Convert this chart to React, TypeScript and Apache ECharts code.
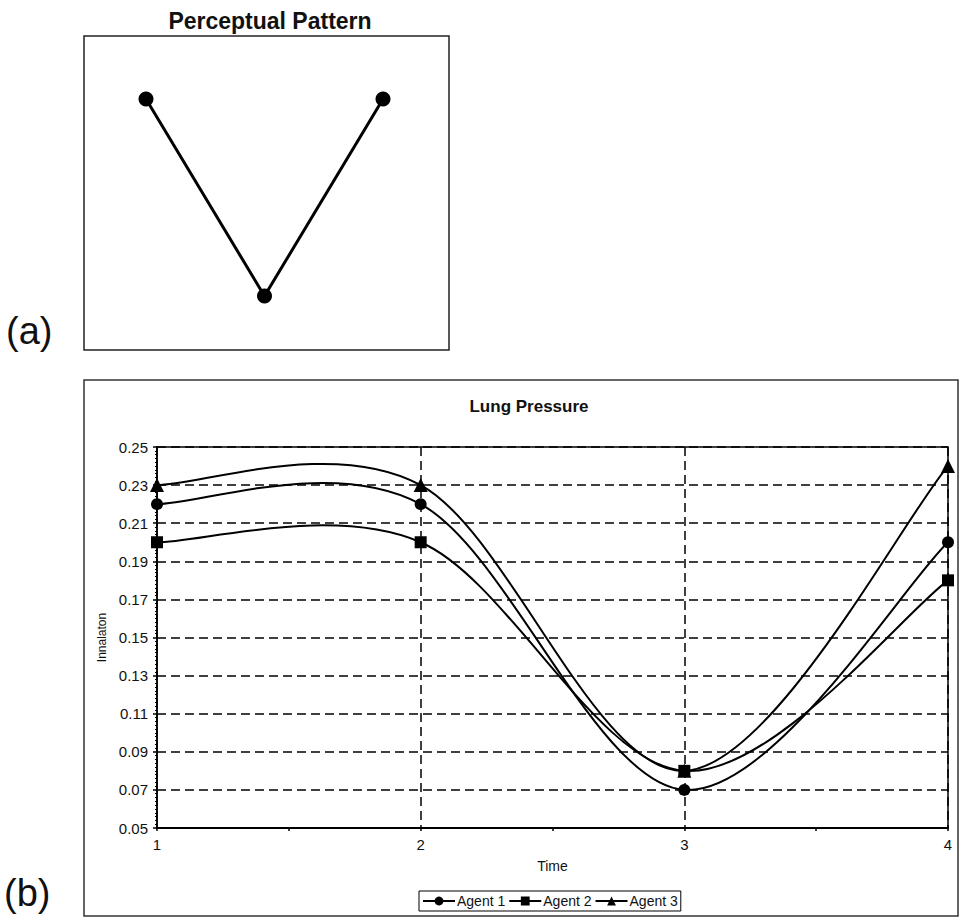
import React, { useEffect, useRef } from "react";
import * as echarts from "echarts";

// Panel (a): perceptual pattern
const PATTERN_X = [1, 2, 3];
const PATTERN_Y = [1, 0, 1];

// Panel (b): lung pressure
const TIME = [1, 2, 3, 4];
const AGENT1 = [0.22, 0.22, 0.07, 0.2];
const AGENT2 = [0.2, 0.2, 0.08, 0.18];
const AGENT3 = [0.23, 0.23, 0.08, 0.24];
const SERIES_NAMES = ["Agent 1", "Agent 2", "Agent 3"];
const SERIES_SYMBOLS = ["circle", "rect", "triangle"];
const SERIES_VALUES = [AGENT1, AGENT2, AGENT3];

const FONT = "'Liberation Sans', Arial, Helvetica, sans-serif";

function curveRenderer(xs: number[], ys: number[]) {
  return (params: any, api: any) => {
    if (params.dataIndex !== 0) return null;
    const pts = xs.map((x, i) => api.coord([x, ys[i]]));
    let d = `M${pts[0][0]},${pts[0][1]}`;
    for (let i = 0; i < pts.length - 1; i++) {
      const p0 = i > 0 ? pts[i - 1] : pts[i];
      const p1 = pts[i];
      const p2 = pts[i + 1];
      const p3 = i + 2 < pts.length ? pts[i + 2] : pts[i + 1];
      const c1x = p1[0] + (p2[0] - p0[0]) / 6;
      const c1y = p1[1] + (p2[1] - p0[1]) / 6;
      const c2x = p2[0] - (p3[0] - p1[0]) / 6;
      const c2y = p2[1] - (p3[1] - p1[1]) / 6;
      d += ` C${c1x},${c1y} ${c2x},${c2y} ${p2[0]},${p2[1]}`;
    }
    return {
      type: "path",
      shape: { pathData: d },
      style: { stroke: "#000", lineWidth: 2, fill: "none" },
    };
  };
}

export default function App() {
  const ref = useRef<HTMLDivElement>(null);

  useEffect(() => {
    if (!ref.current) return;
    const chart = echarts.init(ref.current, undefined, { renderer: "svg" });

    const curveSeries = SERIES_VALUES.map((vals, k) => ({
      type: "custom",
      name: SERIES_NAMES[k] + " curve",
      xAxisIndex: 1,
      yAxisIndex: 1,
      data: TIME.map((t, i) => [t, vals[i]]),
      encode: { x: 0, y: 1 },
      renderItem: curveRenderer(TIME, vals),
      z: 3,
      silent: true,
    }));

    const markerSeries = SERIES_VALUES.map((vals, k) => ({
      type: "line",
      name: SERIES_NAMES[k],
      xAxisIndex: 1,
      yAxisIndex: 1,
      data: TIME.map((t, i) => [t, vals[i]]),
      symbol: SERIES_SYMBOLS[k],
      symbolSize: k === 2 ? 14 : 12,
      showSymbol: true,
      lineStyle: { width: 0, opacity: 0, color: "#000" },
      itemStyle: { color: "#000" },
      z: 4,
    }));

    chart.setOption({
      animation: false,
      backgroundColor: "#fff",
      textStyle: { fontFamily: FONT },
      title: [
        {
          text: "Perceptual Pattern",
          left: 265,
          top: 4,
          textAlign: "center",
          textStyle: { fontSize: 23, fontWeight: "bold", color: "#111", fontFamily: FONT },
        },
        {
          text: "Lung Pressure",
          left: 524,
          top: 393,
          textAlign: "center",
          textStyle: { fontSize: 17, fontWeight: "bold", color: "#111", fontFamily: FONT },
        },
      ],
      graphic: [
        {
          type: "rect",
          shape: { x: 84, y: 36, width: 365, height: 314 },
          style: { fill: "none", stroke: "#222", lineWidth: 1.5 },
          z: 0,
        },
        {
          type: "rect",
          shape: { x: 84, y: 380, width: 874, height: 536 },
          style: { fill: "none", stroke: "#333", lineWidth: 1.5 },
          z: 0,
        },
        {
          type: "text",
          x: 6,
          y: 331,
          style: {
            text: "(a)",
            fontSize: 38,
            fontFamily: FONT,
            fill: "#111",
            textVerticalAlign: "middle",
            verticalAlign: "middle",
          },
        },
        {
          type: "text",
          x: 4,
          y: 893,
          style: {
            text: "(b)",
            fontSize: 38,
            fontFamily: FONT,
            fill: "#111",
            textVerticalAlign: "middle",
            verticalAlign: "middle",
          },
        },
      ],
      legend: {
        left: 419,
        top: 891,
        padding: [3, 3],
        itemGap: 3,
        itemWidth: 32,
        itemHeight: 11,
        borderColor: "#000",
        borderWidth: 1,
        borderRadius: 0,
        data: SERIES_NAMES,
        lineStyle: { width: 2, color: "#000", opacity: 1 },
        itemStyle: { color: "#000" },
        textStyle: { fontSize: 14, color: "#111", fontFamily: FONT, padding: [0, 0, 0, -3] },
      },
      grid: [
        { left: 146, top: 99, width: 237, height: 197, show: false },
        {
          left: 157,
          top: 447,
          width: 791,
          height: 381,
          show: true,
          borderColor: "#000",
          borderWidth: 1.5,
          backgroundColor: "transparent",
        },
      ],
      xAxis: [
        { type: "value", gridIndex: 0, min: 1, max: 3, show: false },
        {
          type: "value",
          gridIndex: 1,
          min: 1,
          max: 4,
          interval: 1,
          name: "Time",
          nameLocation: "middle",
          nameGap: 31,
          nameTextStyle: { fontSize: 14, color: "#111", fontFamily: FONT },
          axisLine: { show: true, onZero: false, lineStyle: { color: "#000", width: 2 } },
          axisTick: { show: true, length: 3, lineStyle: { color: "#000", width: 1.5 } },
          minorTick: { show: true, splitNumber: 2, length: 3, lineStyle: { color: "#000", width: 1.5 } },
          axisLabel: { fontSize: 15, color: "#111", margin: 9, fontFamily: FONT },
          splitLine: { show: true, lineStyle: { color: "#000", width: 1.5, type: [9, 5] } },
        },
      ],
      yAxis: [
        { type: "value", gridIndex: 0, min: 0, max: 1, show: false },
        {
          type: "value",
          gridIndex: 1,
          min: 0.05,
          max: 0.25,
          interval: 0.02,
          name: "Innalaton",
          nameLocation: "middle",
          nameGap: 49,
          nameTextStyle: { fontSize: 12, color: "#111", fontFamily: FONT },
          axisLine: { show: true, onZero: false, lineStyle: { color: "#000", width: 1.5 } },
          axisTick: { show: true, length: 4, lineStyle: { color: "#000", width: 1.5 } },
          minorTick: { show: true, splitNumber: 10, length: 2, lineStyle: { color: "#000", width: 1 } },
          axisLabel: {
            fontSize: 15,
            color: "#111",
            margin: 9,
            fontFamily: FONT,
            formatter: (v: number) => v.toFixed(2),
          },
          splitLine: { show: true, lineStyle: { color: "#000", width: 1.5, type: [9, 5] } },
        },
      ],
      series: [
        {
          type: "line",
          name: "Perceptual Pattern",
          xAxisIndex: 0,
          yAxisIndex: 0,
          data: PATTERN_X.map((x, i) => [x, PATTERN_Y[i]]),
          symbol: "circle",
          symbolSize: 15,
          lineStyle: { color: "#000", width: 3 },
          itemStyle: { color: "#000" },
        },
        ...curveSeries,
        ...markerSeries,
      ],
    });

    return () => chart.dispose();
  }, []);

  return (
    <div
      ref={ref}
      style={{ position: "absolute", left: 0, top: 0, width: 961, height: 918 }}
    />
  );
}
